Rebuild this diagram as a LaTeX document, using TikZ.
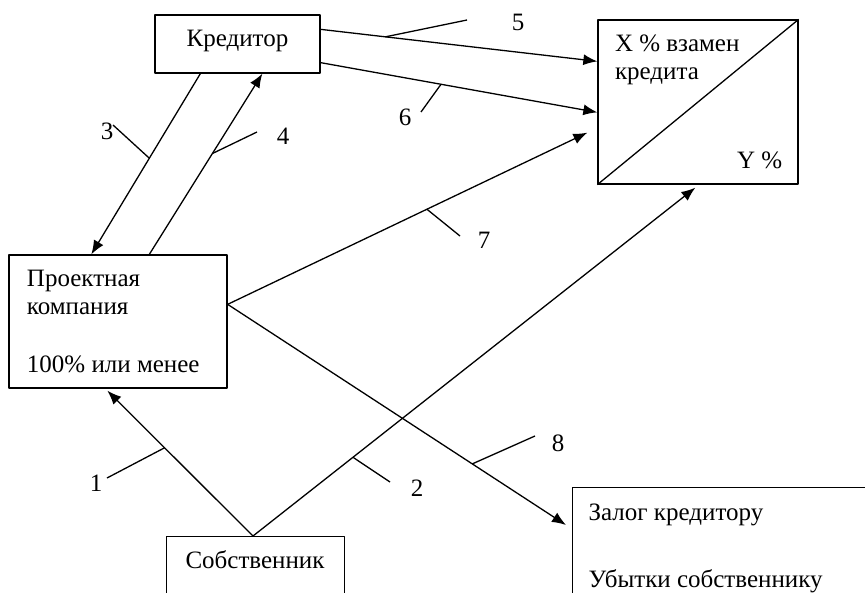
\documentclass[tikz,border=0pt]{standalone}
\usepackage{fontspec}
\setmainfont{Liberation Serif}
\usetikzlibrary{calc,arrows.meta}

\begin{document}
\begin{tikzpicture}[x=1pt,y=-1pt,line join=round,line width=1.3pt,
  font=\fontsize{25}{30}\selectfont,
  box/.style={draw,rectangle,inner sep=0pt},
  txt/.style={anchor=base west,inner sep=0pt},
  arr/.style={-{Latex[length=14pt,width=11pt]}}]
\useasboundingbox (0,0) rectangle (865,592);
\clip (0,0) rectangle (865,592);
% boxes
\node[box,minimum width=165pt,minimum height=58pt] (kred) at (237.5,44) {};
\node[box,minimum width=200pt,minimum height=164pt] (dolya) at (698,102) {};
\node[box,minimum width=218pt,minimum height=133pt] (proekt) at (118,321.5) {};
\node[box,minimum width=178pt,minimum height=80pt,anchor=north west] (sob) at (166,536) {};
\node[box,minimum width=320pt,minimum height=130pt,anchor=north west] (zalog) at (572,487) {};
\draw (dolya.south west)--(dolya.north east);
% texts
\node[anchor=base,inner sep=0pt] (kredname) at ($(kred.north)+(0,32)$) {Кредитор};
\node[txt] (xtxt) at ($(dolya.north west)+(17,32)$) {X \% взамен};
\node[txt] (xtxt2) at ($(dolya.north west)+(17,60)$) {кредита};
\node[txt] (ytxt) at ($(dolya.south west)+(139,-16)$) {Y \%};
\node[txt] (ptxt) at ($(proekt.north west)+(18,32)$) {Проектная};
\node[txt] (ptxt2) at ($(proekt.north west)+(18,60)$) {компания};
\node[txt] (ptxt3) at ($(proekt.north west)+(18,118)$) {100\% или менее};
\node[anchor=base,inner sep=0pt] (sobname) at ($(sob.north west)+(89,32)$) {Собственник};
\node[txt] (ztxt) at ($(zalog.north west)+(16,33)$) {Залог кредитору};
\node[txt] (ztxt2) at ($(zalog.north west)+(16,100)$) {Убытки собственнику};
% arrows
\draw[arr] ($(sob.north west)+(87,0)$) -- ($(proekt.south west)+(99,2)$) coordinate[pos=0.607] (t1);
\draw[arr] ($(sob.north west)+(87,0)$) -- ($(dolya.south west)+(98,3)$) coordinate[pos=0.226] (t2);
\draw[arr] ($(kred.south west)+(46,0)$) -- ($(proekt.north west)+(83,0)$) coordinate[pos=0.468] (t3);
\draw[arr] ($(proekt.north west)+(141,0)$) -- ($(kred.south west)+(108,0)$) coordinate[pos=0.558] (t4);
\draw[arr] ($(kred.north east)+(0,15)$) -- ($(dolya.north west)+(0,42)$) coordinate[pos=0.234] (t5);
\draw[arr] ($(kred.south east)+(0,-11)$) -- ($(dolya.north west)+(0,93)$) coordinate[pos=0.435] (t6);
\draw[arr] ($(proekt.north east)+(0,50)$) -- ($(dolya.south west)+(-10,-52)$) coordinate[pos=0.554] (t7);
\draw[arr] ($(proekt.north east)+(0,50)$) -- ($(zalog.north west)+(-6,38)$) coordinate[pos=0.723] (t8);
% number marks
\foreach \i/\e/\l in {1/{107,478}/{96,483},2/{390,482}/{417,488},3/{113,125}/{107,131},4/{257,132}/{283,136},
  5/{467,20}/{518,22},6/{421,112}/{405,117},7/{460,236}/{484,240},8/{535,436}/{558,443}}{
  \draw (t\i)--(\e) coordinate (e\i);
  \node[inner sep=0pt] (n\i) at (\l) {\i};}
\end{tikzpicture}
\end{document}
